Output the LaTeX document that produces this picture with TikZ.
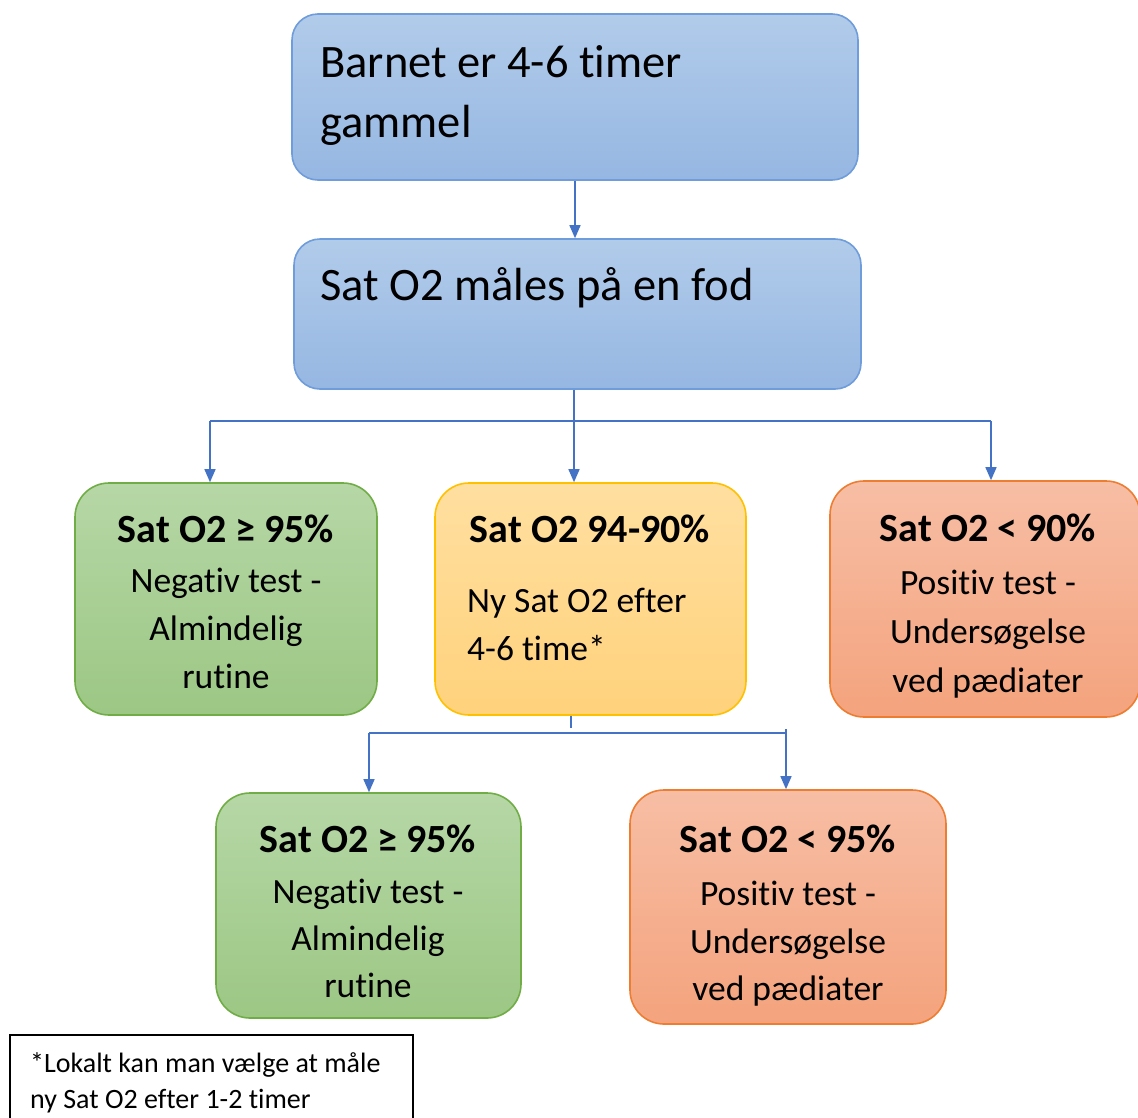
\documentclass[tikz,border=0pt]{standalone}
\usepackage{fontspec}
\setmainfont{Carlito}[Ligatures={NoCommon}]
\usetikzlibrary{arrows.meta}
\definecolor{conncol}{HTML}{4472C4}
\definecolor{bluetop}{HTML}{B1CBEA}
\definecolor{bluebot}{HTML}{96B7E2}
\definecolor{blueedge}{HTML}{6F9CDA}
\definecolor{greentop}{HTML}{B6D7A6}
\definecolor{greenbot}{HTML}{9CC784}
\definecolor{greenedge}{HTML}{70AD47}
\definecolor{yeltop}{HTML}{FFDFA0}
\definecolor{yelbot}{HTML}{FFD27C}
\definecolor{yeledge}{HTML}{FFC000}
\definecolor{ortop}{HTML}{F7BEA5}
\definecolor{orbot}{HTML}{F4A37D}
\definecolor{oredge}{HTML}{ED7D31}
\begin{document}
\begin{tikzpicture}[x=1pt,y=-1pt,
  box/.style={rectangle,inner sep=0pt,line width=1.6pt,rounded corners=34pt},
  bluebox/.style={box,rounded corners=26pt,draw=blueedge,top color=bluetop,bottom color=bluebot},
  greenbox/.style={box,draw=greenedge,top color=greentop,bottom color=greenbot},
  yelbox/.style={box,draw=yeledge,top color=yeltop,bottom color=yelbot},
  orbox/.style={box,draw=oredge,top color=ortop,bottom color=orbot},
  conn/.style={draw=conncol,line width=1.4pt},
  arr/.style={conn,-{Triangle[length=13pt,width=11pt]}},
  big/.style={inner sep=0pt,font=\fontsize{46.5}{56}\selectfont},
  head/.style={inner sep=0pt,anchor=base,font=\fontsize{40}{48}\selectfont\bfseries},
  body/.style={inner sep=0pt,anchor=base,font=\fontsize{35.5}{43}\selectfont},
  foot/.style={inner sep=0pt,anchor=base west,font=\fontsize{28}{34}\selectfont}]
\useasboundingbox (0,0) rectangle (1138,1117);

% boxes
\node[bluebox,minimum width=566,minimum height=166] (b1) at (575,97) {};
\node[bluebox,minimum width=567,minimum height=150] (b2) at (577.5,314) {};
\node[greenbox,minimum width=302,minimum height=232] (g1) at (226,599) {};
\node[yelbox,minimum width=311,minimum height=232] (y1) at (590.5,599) {};
\node[orbox,minimum width=310,minimum height=236] (o1) at (985,599) {};
\node[greenbox,minimum width=305,minimum height=225] (g2) at (368.5,905.5) {};
\node[orbox,minimum width=316,minimum height=234] (o2) at (788,907) {};
\node[rectangle,draw=black,line width=1.5pt,inner sep=0pt,minimum width=403,minimum height=100] (fn) at (211.5,1085) {};

% texts
\node[big,anchor=base west] (t1a) at (320,77) {Barnet er 4-6 timer};
\node[big,anchor=base west] (t1b) at (320,137) {gammel};
\node[big,anchor=base west] (t2a) at (320,300) {Sat O2 måles på en fod};

\node[head] (g1h) at (226,542) {Sat O2 ≥ 95\%};
\node[body] (g1a) at (226,592) {Negativ test -};
\node[body] (g1b) at (226,640) {Almindelig};
\node[body] (g1c) at (226,688) {rutine};

\node[head] (y1h) at (590,542) {Sat O2 94-90\%};
\node[body,anchor=base west] (y1a) at (467,612) {Ny Sat O2 efter};
\node[body,anchor=base west] (y1b) at (467,660) {4-6 time*};

\node[head] (o1h) at (988,541) {Sat O2 < 90\%};
\node[body] (o1a) at (988,594) {Positiv test -};
\node[body] (o1b) at (988,643) {Undersøgelse};
\node[body] (o1c) at (988,692) {ved pædiater};

\node[head] (g2h) at (368,852) {Sat O2 ≥ 95\%};
\node[body] (g2a) at (368,903) {Negativ test -};
\node[body] (g2b) at (368,950) {Almindelig};
\node[body] (g2c) at (368,997) {rutine};

\node[head] (o2h) at (788,852) {Sat O2 < 95\%};
\node[body] (o2a) at (788,905) {Positiv test -};
\node[body] (o2b) at (788,953) {Undersøgelse};
\node[body] (o2c) at (788,1000) {ved pædiater};

\node[foot] (fa) at (30,1072) {*Lokalt kan man vælge at måle};
\node[foot] (fb) at (30,1108) {ny Sat O2 efter 1-2 timer};

% connectors
\draw[arr] (b1.south) -- (b1.south |- b2.north);

\coordinate (j1) at (574,421);
\coordinate (jl) at (210,421);
\coordinate (jr) at (991,421);
\draw[conn] (j1 |- b2.south) -- (j1);
\draw[conn] (jl) -- (jr);
\draw[arr] (jl) -- (jl |- g1.north);
\draw[arr] (j1) -- (j1 |- y1.north);
\draw[arr] (jr) -- (jr |- o1.north);

\coordinate (j2) at (571,733);
\coordinate (kl) at (369,733);
\coordinate (kr) at (786,733);
\draw[conn] (j2 |- y1.south) -- ([yshift=5]j2);
\draw[conn] (kl) -- (kr);
\draw[arr] (kl) -- (kl |- g2.north);
\draw[arr] ([yshift=4]kr) -- (kr |- o2.north);
\end{tikzpicture}
\end{document}
